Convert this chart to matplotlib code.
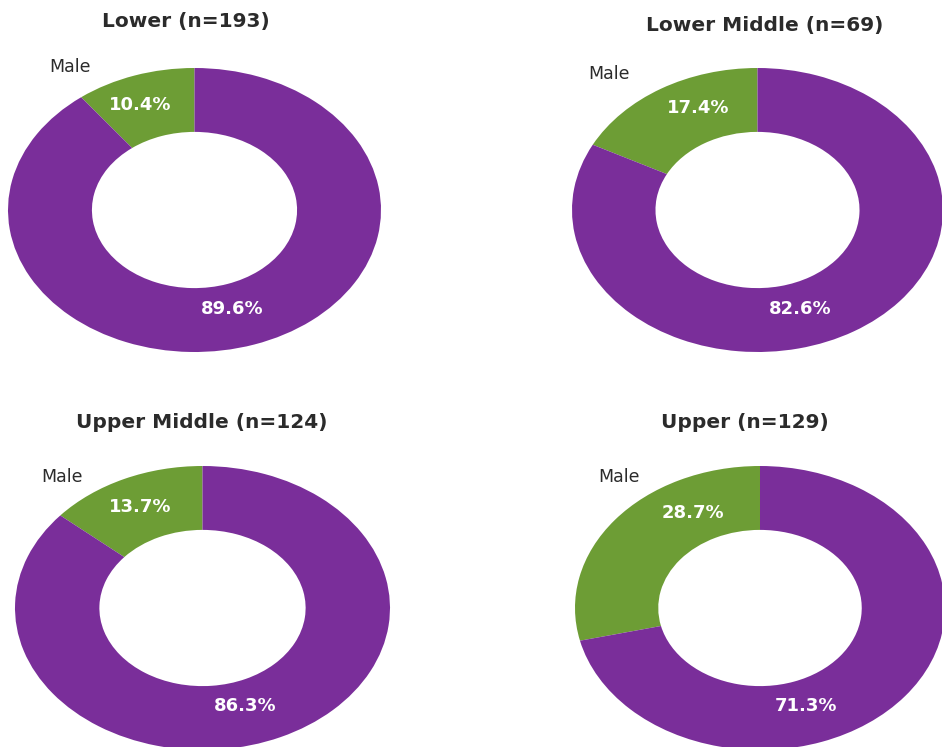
import matplotlib.pyplot as plt

# datos
titles = ['Lower (n=193)', 'Lower Middle (n=69)', 'Upper Middle (n=124)', 'Upper (n=129)']
male = [10.4, 17.4, 13.7, 28.7]
female = [89.6, 82.6, 86.3, 71.3]

purple = '#7a2e9a'
green = '#6d9d35'
txt = '#2b2b2b'

plt.rcParams['font.family'] = ['DejaVu Sans']

W, H = 942, 747
fig = plt.figure(figsize=(W / 100, H / 100), dpi=100)

# caja de cada dona en pixeles (x0, x1, y0, y1) y posicion del titulo
boxes = [(8, 381, 68, 352), (572, 943, 68, 352), (15, 390, 466, 750), (575, 945, 466, 750)]
title_pos = [(186, 22), (765, 25), (202, 422), (745, 422)]
male_pos = [(-0.67, 1.01), (-0.80, 0.96), (-0.75, 0.92), (-0.76, 0.92)]
gpct_pos = [(-0.29, 0.74), (-0.32, 0.72), (-0.33, 0.71), (-0.36, 0.67)]
ppct_pos = [(0.20, -0.70), (0.23, -0.70), (0.23, -0.69), (0.25, -0.69)]

for i in range(4):
    x0, x1, y0, y1 = boxes[i]
    ax = fig.add_axes([x0 / W, 1 - y1 / H, (x1 - x0) / W, (y1 - y0) / H])
    ax.pie([male[i], female[i]], colors=[green, purple], startangle=90,
           counterclock=True, radius=1, wedgeprops=dict(width=0.45, linewidth=0))
    ax.set_aspect('auto')
    ax.set_xlim(-1, 1)
    ax.set_ylim(-1, 1)
    ax.axis('off')
    ax.text(*male_pos[i], 'Male', ha='center', va='center', fontsize=12.5, color=txt)
    ax.text(*gpct_pos[i], f'{male[i]:.1f}%', ha='center', va='center', fontsize=13,
            fontweight='bold', color='white')
    ax.text(*ppct_pos[i], f'{female[i]:.1f}%', ha='center', va='center', fontsize=13,
            fontweight='bold', color='white')
    tx, ty = title_pos[i]
    fig.text(tx / W, 1 - ty / H, titles[i], ha='center', va='center', fontsize=14.5,
             fontweight='bold', color=txt)

plt.savefig('out.png', dpi=100)
